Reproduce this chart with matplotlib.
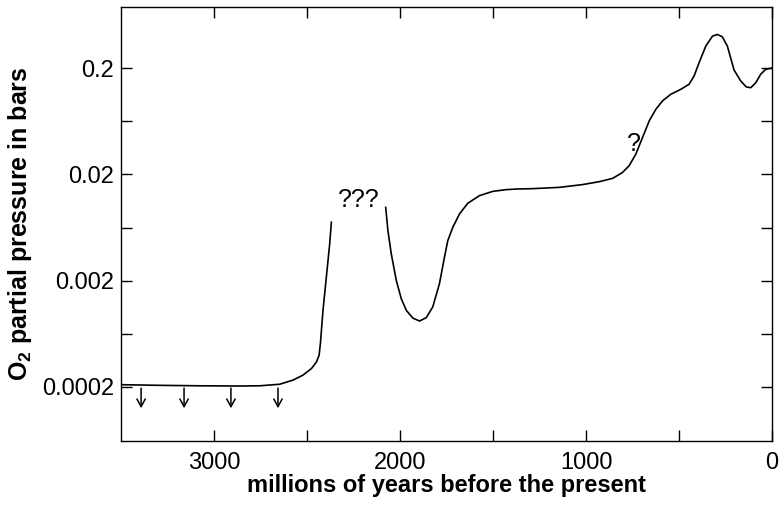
import matplotlib
matplotlib.use("Agg")
import matplotlib.pyplot as plt
from matplotlib.ticker import FixedLocator, NullFormatter

plt.rcParams['font.family'] = ['Liberation Sans', 'DejaVu Sans']
plt.rcParams['mathtext.fontset'] = 'custom'
plt.rcParams['mathtext.rm'] = 'Liberation Sans'
plt.rcParams['mathtext.bf'] = 'Liberation Sans:bold'

# Early segment (Archean to Great Oxidation rise): millions of years ago / bars
early_age = [3500, 3291, 3076, 2861, 2754, 2647, 2575, 2522, 2476, 2449, 2435, 2428,
             2414, 2396, 2378, 2369]
early_o2 = [2.1e-4, 2.07e-4, 2.05e-4, 2.04e-4, 2.05e-4, 2.12e-4, 2.32e-4, 2.58e-4, 2.98e-4,
            3.44e-4, 3.97e-4, 5.12e-4, 1.05e-3, 2.16e-3, 4.44e-3, 7.08e-3]

# Later segment (after the ??? gap to the present)
late_age = [2077, 2065, 2047, 2020, 1993, 1966, 1931, 1895, 1859, 1824, 1788, 1761, 1743,
            1716, 1680, 1636, 1573, 1501, 1430, 1367, 1288, 1143, 1020, 929, 857, 804, 768,
            732, 696, 660, 624, 589, 544, 490, 446, 419, 392, 356, 320, 294, 267, 240, 204,
            168, 138, 114, 87, 61, 34, 0]
late_o2 = [9.77e-3, 5.92e-3, 3.58e-3, 2.01e-3, 1.35e-3, 1.05e-3, 8.89e-4, 8.34e-4, 8.96e-4,
           1.13e-3, 1.87e-3, 3.32e-3, 4.76e-3, 6.35e-3, 8.49e-3, 1.067e-2, 1.26e-2, 1.383e-2,
           1.435e-2, 1.456e-2, 1.466e-2, 1.508e-2, 1.6e-2, 1.705e-2, 1.832e-2, 2.08e-2,
           2.41e-2, 3.10e-2, 4.44e-2, 6.37e-2, 8.20e-2, 9.80e-2, 0.1133, 0.1262, 0.1406,
           0.168, 0.2245, 0.3215, 0.399, 0.414, 0.393, 0.3215, 0.1914, 0.151, 0.1327,
           0.1306, 0.1456, 0.1746, 0.1945, 0.2]

arrow_ages = [3392, 3161, 2909, 2656]
arrow_top = 1.95e-4
arrow_bottom = 1.26e-4

y_major = [0.0002, 0.002, 0.02, 0.2]
y_major_labels = ['0.0002', '0.002', '0.02', '0.2']
y_minor = [0.000632, 0.00632, 0.0632]
x_major = [3000, 2000, 1000, 0]
x_minor = [2500, 1500, 500]

fig = plt.figure(figsize=(7.81, 5.05), dpi=100)
ax = fig.add_axes([121/781, (505-441)/505, (772-121)/781, (441-7)/505])

ax.plot(early_age, early_o2, color='black', lw=1.2, solid_joinstyle='round')
ax.plot(late_age, late_o2, color='black', lw=1.2, solid_joinstyle='round')

for a in arrow_ages:
    ax.annotate('', xy=(a, arrow_bottom), xytext=(a, arrow_top),
                arrowprops=dict(arrowstyle='->,head_length=0.55,head_width=0.3', lw=1.1,
                                color='black', shrinkA=0, shrinkB=0))

ax.text(2220, 9.8e-3, '???', fontsize=18, ha='center', va='baseline')
ax.text(743, 3.33e-2, '?', fontsize=18, ha='center', va='baseline')

ax.set_yscale('log')
ax.set_xlim(3500, 0)
ax.set_ylim(6.2e-5, 0.75)

ax.yaxis.set_major_locator(FixedLocator(y_major))
ax.set_yticklabels(y_major_labels)
ax.yaxis.set_minor_locator(FixedLocator(y_minor))
ax.yaxis.set_minor_formatter(NullFormatter())
ax.xaxis.set_major_locator(FixedLocator(x_major))
ax.set_xticklabels([str(v) for v in x_major])
ax.xaxis.set_minor_locator(FixedLocator(x_minor))
ax.xaxis.set_minor_formatter(NullFormatter())

ax.tick_params(which='both', direction='in', top=True, right=True, length=8, width=1.0,
               labelsize=17)
ax.tick_params(axis='x', pad=8)
ax.tick_params(axis='y', pad=5)
for s in ax.spines.values():
    s.set_linewidth(1.0)

ax.set_xlabel('millions of years before the present', fontsize=17, fontweight='bold',
              labelpad=0)
ax.set_ylabel(r'$\mathbf{O_2}$ partial pressure in bars', fontsize=18, fontweight='bold',
              labelpad=6)

fig.savefig('out.png', dpi=100)
